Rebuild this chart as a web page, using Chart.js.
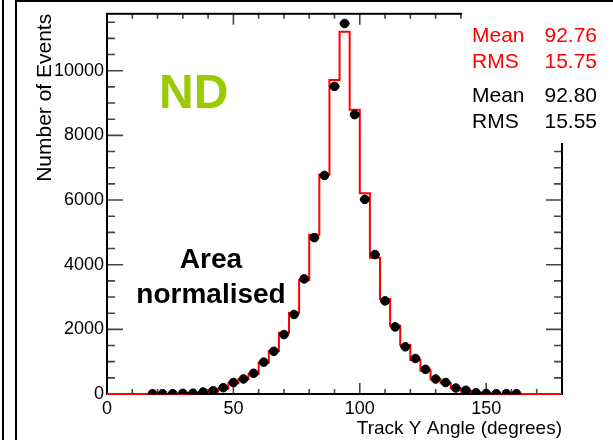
<!DOCTYPE html>
<html>
<head>
<meta charset="utf-8">
<title>Track Y Angle - ND</title>
<script src="https://cdn.jsdelivr.net/npm/chart.js@4.4.1/dist/chart.umd.min.js"></script>
<style>
    html, body { margin: 0; padding: 0; background: #ffffff; }
    #wrap { position: relative; width: 613px; height: 440px; overflow: hidden; }
    #angle-chart { position: absolute; left: 0; top: 0; }
    .rule { position: absolute; background: #000; }
</style>
</head>
<body>
<div id="wrap">
    <canvas id="angle-chart" width="613" height="440"></canvas>
    <div class="rule" style="left:2px; top:0; width:2px; height:440px;"></div>
    <div class="rule" style="left:15px; top:0; width:2px; height:440px;"></div>
    <div class="rule" style="left:15px; top:0; width:598px; height:2px;"></div>
</div>
<script>
// --- Histogram binning (low edge of each 4 degree bin) ---
const binLow = [0, 4, 8, 12, 16, 20, 24, 28, 32, 36, 40, 44, 48, 52, 56, 60, 64, 68, 72, 76,
    80, 84, 88, 92, 96, 100, 104, 108, 112, 116, 120, 124, 128, 132, 136, 140, 144, 148, 152, 156,
    160, 164, 168, 172, 176];
const binWidth = 4;
const histMax = 180;

// --- MC prediction (red histogram), area normalised ---
const mcCounts = [0, 0, 0, 0, 0, 0, 0, 5, 20, 40, 80, 170, 330, 453, 617, 966, 1327, 1892, 2509, 3519,
    4929, 6790, 9713, 11204, 8796, 6213, 4218, 2942, 2108, 1512, 1049, 719, 453, 330, 175, 93, 40, 15, 0, 0,
    0, 0, 0, 0, 0];

// --- Data (black points), null where no entry ---
const dataCounts = [null, null, null, null, 10, 10, 10, 20, 25, 60, 100, 195, 355, 465, 640, 985, 1320, 1840, 2460, 3560,
    4836, 6760, 9515, 11460, 8642, 6019, 4312, 2880, 2077, 1460, 1100, 762, 463, 356, 185, 114, 40, 15, 10, 10,
    10, null, null, null, null];

// --- Axes ---
const xTickValues = [0, 50, 100, 150];
const yTickValues = [0, 2000, 4000, 6000, 8000, 10000];
const yMax = 11760;

// --- Statistics boxes ---
const mcStats = [['Mean', '92.76'], ['RMS', '15.75']];
const dataStats = [['Mean', '92.80'], ['RMS', '15.55']];

const FONT = "'Liberation Sans', Arial, Helvetica, sans-serif";
Chart.defaults.font.family = FONT;
Chart.defaults.color = '#000';

// step points: one per low edge, plus the closing upper edge
const mcPoints = binLow.map((lo, i) => ({ x: lo, y: mcCounts[i] }));
mcPoints.push({ x: histMax, y: mcCounts[mcCounts.length - 1] });

const dataPoints = binLow.map((lo, i) => ({ x: lo + binWidth / 2, y: dataCounts[i] }))
    .filter(p => p.y !== null);

// Frame with inward ticks on all four sides, ROOT style
const frameTicks = {
    id: 'frameTicks',
    beforeDatasetsDraw(chart) {
        const { ctx, chartArea: a, scales: { x, y } } = chart;
        ctx.save();
        ctx.lineWidth = 1.6;
        ctx.strokeStyle = '#444';
        ctx.beginPath();
        for (let v = 0; v <= histMax; v += 10) {
            const px = x.getPixelForValue(v);
            const len = v % 50 === 0 ? 11 : 5;
            ctx.moveTo(px, a.bottom); ctx.lineTo(px, a.bottom - len);
            ctx.moveTo(px, a.top); ctx.lineTo(px, a.top + len);
        }
        for (let v = 0; v <= yMax; v += 500) {
            const py = y.getPixelForValue(v);
            const len = v % 2000 === 0 ? 16 : 8;
            ctx.moveTo(a.left, py); ctx.lineTo(a.left + len, py);
            ctx.moveTo(a.right, py); ctx.lineTo(a.right - len, py);
        }
        ctx.stroke();

        ctx.strokeStyle = '#000';
        ctx.lineWidth = 2;
        ctx.strokeRect(a.left, a.top, a.right - a.left, a.bottom - a.top);

        // stats box sits over the top right corner of the frame
        ctx.fillStyle = '#fff';
        ctx.fillRect(462, 3, 151, 140);
        ctx.restore();
    },
    afterDatasetsDraw(chart) {
        const { ctx } = chart;
        ctx.save();
        // horizontal error bars (bin width) on the data points
        const meta = chart.getDatasetMeta(1);
        const { x } = chart.scales;
        ctx.strokeStyle = '#000';
        ctx.lineWidth = 1.5;
        ctx.beginPath();
        meta.data.forEach((pt, i) => {
            const cx = dataPoints[i].x;
            ctx.moveTo(x.getPixelForValue(cx - binWidth / 2), pt.y);
            ctx.lineTo(x.getPixelForValue(cx + binWidth / 2), pt.y);
        });
        ctx.stroke();

        ctx.textBaseline = 'alphabetic';
        ctx.font = `21px ${FONT}`;
        const drawStats = (rows, color, y0) => {
            ctx.fillStyle = color;
            rows.forEach(([name, val], i) => {
                ctx.textAlign = 'left';
                ctx.fillText(name, 472, y0 + i * 25.5);
                ctx.textAlign = 'right';
                ctx.fillText(val, 597, y0 + i * 25.5);
            });
        };
        drawStats(mcStats, '#ff0000', 42);
        drawStats(dataStats, '#000000', 102);

        ctx.fillStyle = '#99cc00';
        ctx.textAlign = 'left';
        ctx.font = `bold 48px ${FONT}`;
        ctx.fillText('ND', 159, 108);

        ctx.fillStyle = '#000';
        ctx.textAlign = 'center';
        ctx.font = `bold 28px ${FONT}`;
        ctx.fillText('Area', 211, 268);
        ctx.fillText('normalised', 211, 303);
        ctx.restore();
    }
};

new Chart(document.getElementById('angle-chart'), {
    type: 'line',
    data: {
        datasets: [
            {
                label: 'MC',
                data: mcPoints,
                stepped: 'before',
                borderColor: '#ff0000',
                borderWidth: 2,
                pointRadius: 0,
                fill: false,
                clip: false,
                order: 2
            },
            {
                label: 'Data',
                data: dataPoints,
                showLine: false,
                pointRadius: 4.3,
                pointBackgroundColor: '#000',
                pointBorderColor: '#000',
                order: 1
            }
        ]
    },
    options: {
        responsive: false,
        animation: false,
        devicePixelRatio: 1,
        layout: { padding: { left: 0, right: 51, top: 13, bottom: 0 } },
        plugins: { legend: { display: false }, tooltip: { enabled: false } },
        scales: {
            x: {
                type: 'linear',
                min: 0,
                max: histMax,
                grid: { display: false, drawTicks: false },
                border: { display: false },
                afterBuildTicks: s => { s.ticks = xTickValues.map(v => ({ value: v })); },
                afterFit: s => { s.height = 46; },
                ticks: { padding: 4, maxRotation: 0, font: { size: 18 }, color: '#000', callback: v => String(v) },
                title: {
                    display: true,
                    text: 'Track Y Angle (degrees)',
                    align: 'end',
                    font: { size: 19 },
                    color: '#000',
                    padding: { top: 0, bottom: 0 }
                }
            },
            y: {
                type: 'linear',
                min: 0,
                max: yMax,
                grid: { display: false, drawTicks: false },
                border: { display: false },
                afterBuildTicks: s => { s.ticks = yTickValues.map(v => ({ value: v })); },
                afterFit: s => { s.width = 107; },
                ticks: { padding: 3, font: { size: 18 }, color: '#000', callback: v => String(v) },
                title: {
                    display: true,
                    text: 'Number of Events',
                    align: 'end',
                    font: { size: 21 },
                    color: '#000',
                    padding: { top: 33, bottom: 0 }
                }
            }
        }
    },
    plugins: [frameTicks]
});
</script>
</body>
</html>
